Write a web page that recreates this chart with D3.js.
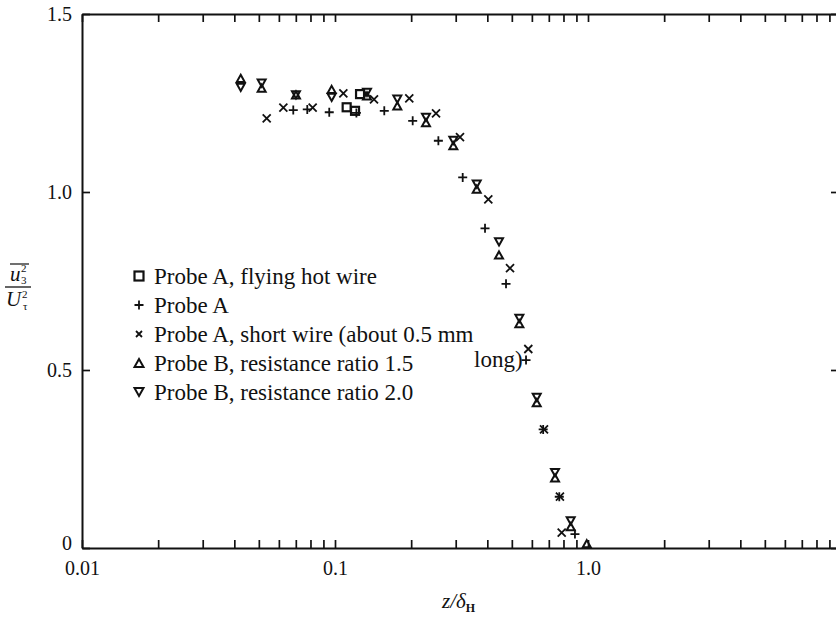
<!DOCTYPE html>
<html>
<head>
<meta charset="utf-8">
<script src="https://cdn.jsdelivr.net/npm/d3@7"></script>
<style>
  html, body { margin: 0; padding: 0; background: #fff; }
  svg { display: block; }
  text { font-family: "Liberation Serif", "Times New Roman", serif; fill: #111; }
</style>
</head>
<body>
<svg id="chart" width="836" height="620"></svg>
<script>
// ---- data ----
const xTickValues = [0.01, 0.1, 1.0];
const xTickLabels = ["0.01", "0.1", "1.0"];
const yTickValues = [0, 0.5, 1.0, 1.5];
const yTickLabels = ["0", "0.5", "1.0", "1.5"];

// Probe A, flying hot wire (square)
const flyingX = [0.1112, 0.1200, 0.1256];
const flyingY = [1.238, 1.228, 1.275];

// Probe A (+)
const probeAX = [0.0684, 0.0777, 0.0949, 0.1215, 0.1566, 0.2028, 0.2562, 0.3197, 0.3917, 0.4742, 0.5689, 0.665, 0.770, 0.888];
const probeAY = [1.230, 1.232, 1.224, 1.222, 1.228, 1.200, 1.144, 1.041, 0.898, 0.742, 0.528, 0.333, 0.144, 0.039];

// Probe A, short wire (x)
const shortX = [0.0537, 0.0625, 0.0816, 0.1079, 0.1426, 0.1966, 0.2508, 0.3119, 0.4036, 0.4918, 0.5808, 0.670, 0.7745, 0.787];
const shortY = [1.207, 1.237, 1.237, 1.277, 1.260, 1.263, 1.221, 1.154, 0.979, 0.786, 0.559, 0.333, 0.144, 0.043];

// Probe B, resistance ratio 1.5 (triangle up)
const probeB15X = [0.0424, 0.0513, 0.0701, 0.0970, 0.1338, 0.1763, 0.2289, 0.2936, 0.3632, 0.4449, 0.5354, 0.6271, 0.7408, 0.8543, 0.989];
const probeB15Y = [1.319, 1.292, 1.273, 1.288, 1.270, 1.242, 1.195, 1.130, 1.008, 0.823, 0.630, 0.408, 0.197, 0.060, 0.012];

// Probe B, resistance ratio 2.0 (triangle down)
const probeB20X = [0.0424, 0.0513, 0.0701, 0.0970, 0.1338, 0.1763, 0.2289, 0.2936, 0.3632, 0.4449, 0.5354, 0.6271, 0.7408, 0.8543];
const probeB20Y = [1.294, 1.306, 1.273, 1.266, 1.280, 1.261, 1.210, 1.145, 1.022, 0.860, 0.645, 0.423, 0.212, 0.076];

const legendLabels = [
  "Probe A, flying hot wire",
  "Probe A",
  "Probe A, short wire (about 0.5 mm",
  "Probe B, resistance ratio 1.5",
  "Probe B, resistance ratio 2.0"
];
const legendContinuation = "long)";
const legendSymbols = ["square", "plus", "cross", "up", "down"];

// ---- layout ----
const svg = d3.select("#chart");
const x = d3.scaleLog().domain([0.01, 10]).range([82, 841]);
const y = d3.scaleLinear().domain([0, 1.5]).range([548, 14]);

// minor tick positions (1..9 x each decade, plus the last decade)
const minorTicks = [];
[0.01, 0.1, 1].forEach(d => { for (let k = 1; k <= 9; k++) minorTicks.push(d * k); });
minorTicks.push(10);

const tickFmt = v => {
  const i = xTickValues.findIndex(t => Math.abs(t - v) < 1e-9);
  return i >= 0 ? xTickLabels[i] : "";
};

// bottom axis: ticks pointing up, labels below
const gBottom = svg.append("g").attr("transform", `translate(0,${y(0)})`)
  .call(d3.axisBottom(x).tickValues(minorTicks).tickFormat(tickFmt).tickSize(-8).tickSizeOuter(0).tickPadding(13));
// top axis: ticks pointing down
const gTop = svg.append("g").attr("transform", `translate(0,${y(1.5)})`)
  .call(d3.axisTop(x).tickValues(minorTicks).tickFormat("").tickSize(-8).tickSizeOuter(0));
// left axis
const gLeft = svg.append("g").attr("transform", `translate(${x(0.01)},0)`)
  .call(d3.axisLeft(y).tickValues(yTickValues).tickFormat((v, i) => yTickLabels[i]).tickSize(-8).tickSizeOuter(0).tickPadding(10));
// right axis (sits just beyond the picture edge)
const gRight = svg.append("g").attr("transform", `translate(${x(10)},0)`)
  .call(d3.axisRight(y).tickValues(yTickValues).tickFormat("").tickSize(-10).tickSizeOuter(0));

[gBottom, gTop, gLeft, gRight].forEach(g => {
  g.select(".domain").attr("stroke", "#111").attr("stroke-width", 2);
  g.selectAll(".tick line").attr("stroke", "#111").attr("stroke-width", 1.7);
  g.selectAll("text").attr("font-size", 20).attr("font-family", "Liberation Serif").attr("fill", "#111");
});
// lift the "0" label slightly so it clears "0.01"
gLeft.selectAll(".tick").filter(d => d === 0).select("text").attr("dy", "0.05em");

// y axis label: fraction  u3^2 (overbar) / U_tau^2
const yl = svg.append("g");
yl.append("text").attr("x", 10).attr("y", 281).attr("font-size", 21).attr("font-style", "italic").text("u");
yl.append("text").attr("x", 21).attr("y", 272).attr("font-size", 11).text("2");
yl.append("text").attr("x", 21).attr("y", 284).attr("font-size", 11).text("3");
yl.append("line").attr("x1", 10).attr("x2", 29).attr("y1", 264).attr("y2", 264).attr("stroke", "#111").attr("stroke-width", 1.2);
yl.append("line").attr("x1", 5).attr("x2", 31).attr("y1", 287).attr("y2", 287).attr("stroke", "#111").attr("stroke-width", 1.3);
yl.append("text").attr("x", 6).attr("y", 306).attr("font-size", 21).attr("font-style", "italic").text("U");
yl.append("text").attr("x", 22).attr("y", 298).attr("font-size", 11).text("2");
yl.append("text").attr("x", 23).attr("y", 310).attr("font-size", 11).text("τ");

// x axis label
const xl = svg.append("text").attr("x", 442).attr("y", 608).attr("font-size", 21);
xl.append("tspan").attr("font-style", "italic").text("z/δ");
xl.append("tspan").attr("font-size", 12).attr("font-weight", "bold").attr("dy", 4).text("H");

// ---- marker drawing ----
function drawSymbol(g, type, cx, cy, s) {
  const stroke = "#111";
  if (type === "square") {
    g.append("rect").attr("x", cx - s / 2).attr("y", cy - s / 2).attr("width", s).attr("height", s)
      .attr("fill", "none").attr("stroke", stroke).attr("stroke-width", 2.2);
  } else if (type === "plus") {
    g.append("path").attr("d", `M${cx - s / 2},${cy}H${cx + s / 2}M${cx},${cy - s / 2}V${cy + s / 2}`)
      .attr("stroke", stroke).attr("stroke-width", 1.8).attr("fill", "none");
  } else if (type === "cross") {
    const h = s / 2;
    g.append("path").attr("d", `M${cx - h},${cy - h}L${cx + h},${cy + h}M${cx - h},${cy + h}L${cx + h},${cy - h}`)
      .attr("stroke", stroke).attr("stroke-width", 1.8).attr("fill", "none");
  } else if (type === "up") {
    const w = s / 2, h = s * 0.45;
    g.append("path").attr("d", `M${cx},${cy - h}L${cx + w},${cy + h}L${cx - w},${cy + h}Z`)
      .attr("stroke", stroke).attr("stroke-width", 2).attr("fill", "none").attr("stroke-linejoin", "miter");
  } else if (type === "down") {
    const w = s / 2, h = s * 0.45;
    g.append("path").attr("d", `M${cx},${cy + h}L${cx + w},${cy - h}L${cx - w},${cy - h}Z`)
      .attr("stroke", stroke).attr("stroke-width", 2).attr("fill", "none").attr("stroke-linejoin", "miter");
  }
}

const gm = svg.append("g");
flyingX.forEach((v, i) => drawSymbol(gm, "square", x(v), y(flyingY[i]), 8));
probeAX.forEach((v, i) => drawSymbol(gm, "plus", x(v), y(probeAY[i]), 9));
shortX.forEach((v, i) => drawSymbol(gm, "cross", x(v), y(shortY[i]), 8));
probeB15X.forEach((v, i) => drawSymbol(gm, "up", x(v), y(probeB15Y[i]), 8));
probeB20X.forEach((v, i) => drawSymbol(gm, "down", x(v), y(probeB20Y[i]), 8));

// ---- legend ----
const lg = svg.append("g");
const legY0 = 276, legDy = 29;
legendLabels.forEach((lab, i) => {
  const cy = legY0 + i * legDy;
  const sym = legendSymbols[i];
  const sz = sym === "cross" ? 6 : (sym === "plus" ? 9 : 9);
  drawSymbol(lg, sym, 139, cy, sz);
  lg.append("text").attr("x", 154).attr("y", cy + 8).attr("font-size", 23).text(lab);
});
lg.append("text").attr("x", 474).attr("y", legY0 + 3 * legDy + 4).attr("font-size", 23).text(legendContinuation);
</script>
</body>
</html>
